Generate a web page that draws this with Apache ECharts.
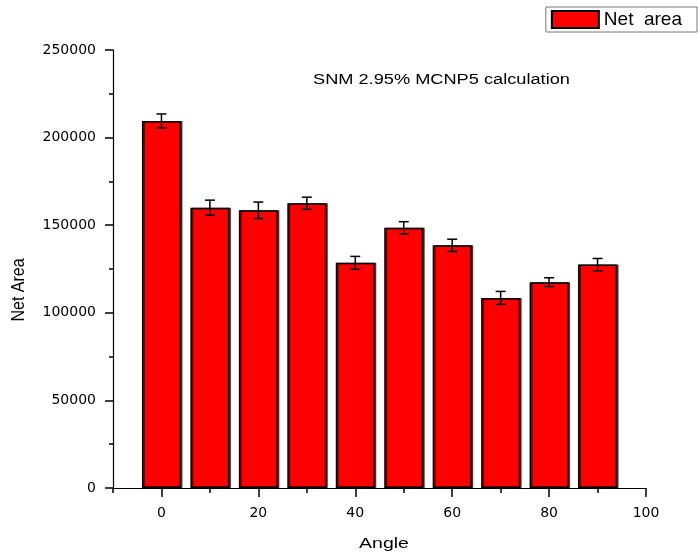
<!DOCTYPE html>
<html>
<head>
<meta charset="utf-8">
<script src="https://cdn.jsdelivr.net/npm/echarts@6/dist/echarts.min.js"></script>
<style>html,body{margin:0;padding:0;background:#fff;}#c{width:698px;height:556px;}</style>
</head>
<body>
<div id="c"></div>
<script>
const angles = [0, 10, 20, 30, 40, 50, 60, 70, 80, 90];
const netArea = [209500, 160000, 158500, 162500, 128500, 148500, 138500, 108500, 117500, 127500];
const netAreaErr = [4000, 4300, 4700, 3500, 3700, 3500, 3500, 3700, 2500, 3500];
const xMajorTicks = [0, 20, 40, 60, 80, 100];
const xMinorTicks = [-10, 10, 30, 50, 70, 90];

const FONT = 'Liberation Sans';
const TICKFONT = 'DejaVu Sans';
const chart = echarts.init(document.getElementById('c'));
chart.setOption({
  animation: false,
  backgroundColor: '#fff',
  legend: {
    right: 1, top: 7,
    orient: 'horizontal',
    padding: [3, 15, 3, 5],
    borderColor: '#777', borderWidth: 1,
    itemWidth: 47, itemHeight: 17, itemGap: 8,
    icon: 'rect',
    textStyle: { fontFamily: FONT, fontSize: 19, color: '#000' },
    data: ['Net  area']
  },
  grid: { left: 113, right: 52, top: 50, bottom: 68, outerBoundsMode: 'none', containLabel: false },
  xAxis: [{
    type: 'value', min: -10, max: 100,
    axisLine: { show: true, onZero: false, lineStyle: { color: '#000', width: 1.2 } },
    axisTick: { show: true, customValues: xMajorTicks, length: 9, lineStyle: { color: '#000', width: 1.5 } },
    axisLabel: { customValues: xMajorTicks, margin: 18, fontFamily: TICKFONT, fontSize: 14, color: '#000' },
    splitLine: { show: false }
  }, {
    type: 'value', min: -10, max: 100, position: 'bottom',
    gridIndex: 0,
    axisLine: { show: false, onZero: false },
    axisTick: { show: true, customValues: xMinorTicks, length: 5, lineStyle: { color: '#000', width: 1.5 } },
    axisLabel: { show: false },
    splitLine: { show: false }
  }],
  yAxis: {
    type: 'value', min: 0, max: 250000, interval: 50000,
    axisLine: { show: true, onZero: false, lineStyle: { color: '#000', width: 1.2 } },
    axisTick: { show: true, length: 8, lineStyle: { color: '#000', width: 1.5 } },
    minorTick: { show: true, splitNumber: 2, length: 4, lineStyle: { color: '#000', width: 1.5 } },
    axisLabel: { margin: 17, fontFamily: TICKFONT, fontSize: 14, color: '#000', formatter: v => String(v) },
    splitLine: { show: false }
  },
  graphic: [{
    type: 'text', x: 313, y: 80, scaleX: 1.3,
    style: { text: 'SNM 2.95% MCNP5 calculation', fontFamily: FONT, fontSize: 14, fill: '#000', align: 'left', verticalAlign: 'middle' }
  }, {
    type: 'text', x: 384, y: 544, scaleX: 1.3,
    style: { text: 'Angle', fontFamily: FONT, fontSize: 15, fill: '#000', align: 'center', verticalAlign: 'middle' }
  }, {
    type: 'text', x: 19, y: 290, rotation: Math.PI / 2, scaleY: 1.2,
    style: { text: 'Net Area', fontFamily: FONT, fontSize: 16, fill: '#000', align: 'center', verticalAlign: 'middle' }
  }],
  series: [{
    name: 'Net  area',
    type: 'bar',
    xAxisIndex: 0,
    barWidth: 39,
    data: angles.map((a, i) => [a, netArea[i]]),
    itemStyle: {
      color: '#ff0000', borderColor: '#000', borderWidth: 1.5,
      shadowColor: 'rgba(90,0,0,0.8)', shadowOffsetX: 1.5, shadowOffsetY: 0, shadowBlur: 0
    }
  }, {
    type: 'custom',
    xAxisIndex: 0,
    z: 5,
    silent: true,
    data: angles.map((a, i) => [a, netArea[i] - netAreaErr[i], netArea[i] + netAreaErr[i]]),
    renderItem: function (params, api) {
      const lo = api.coord([api.value(0), api.value(1)]);
      const hi = api.coord([api.value(0), api.value(2)]);
      const hw = 5;
      const st = { stroke: '#000', lineWidth: 1.5 };
      return {
        type: 'group',
        children: [
          { type: 'line', shape: { x1: lo[0], y1: lo[1], x2: hi[0], y2: hi[1] }, style: st },
          { type: 'line', shape: { x1: lo[0] - hw, y1: lo[1], x2: lo[0] + hw, y2: lo[1] }, style: st },
          { type: 'line', shape: { x1: hi[0] - hw, y1: hi[1], x2: hi[0] + hw, y2: hi[1] }, style: st }
        ]
      };
    }
  }]
});
</script>
</body>
</html>
